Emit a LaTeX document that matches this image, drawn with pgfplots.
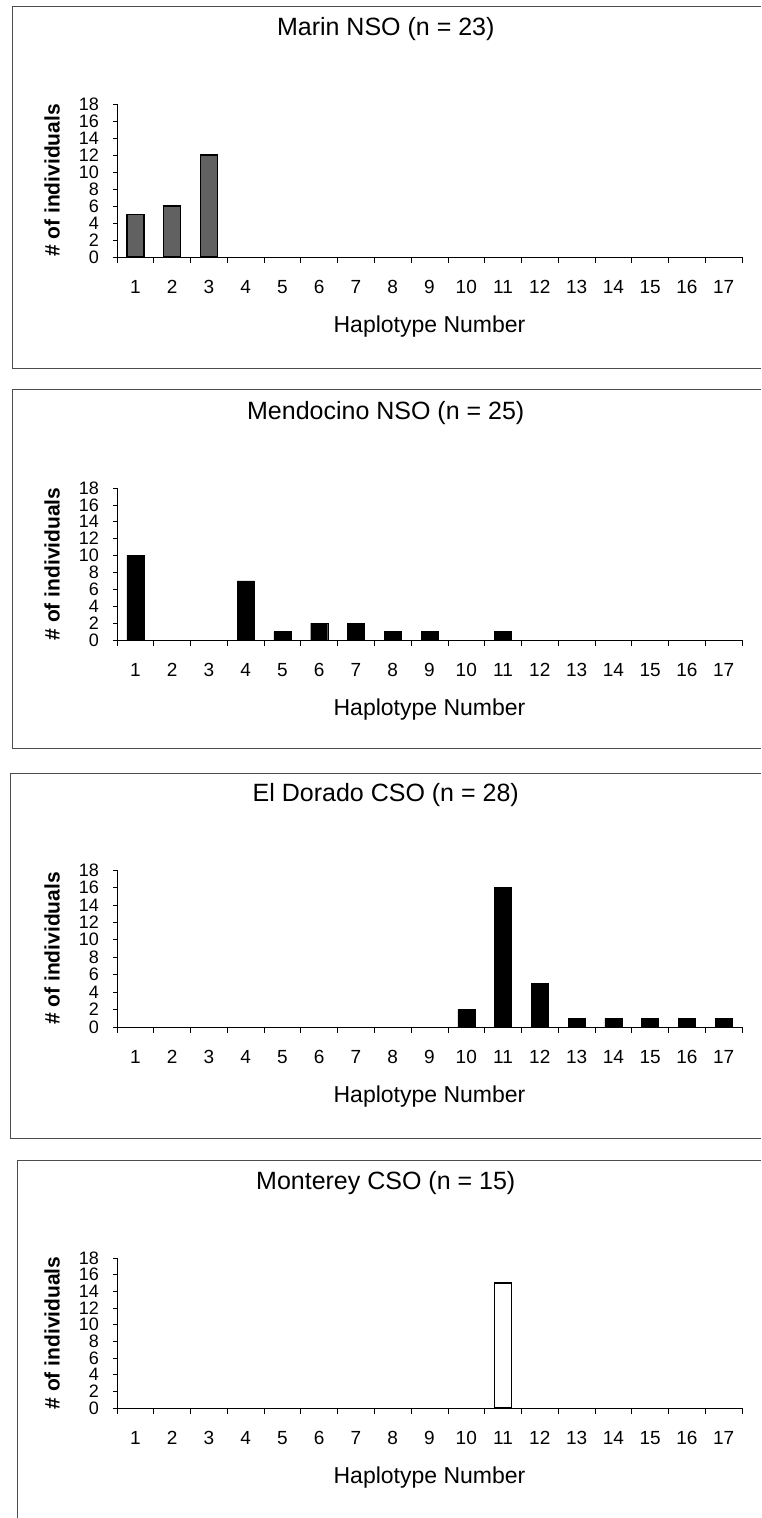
\documentclass[border=0pt]{standalone}
\usepackage{fontspec}
\setmainfont{Liberation Sans}
\usepackage{pgfplots}
\pgfplotsset{compat=1.18}
\pgfplotsset{
  panel/.style={
    scale only axis, width=625bp,
    xmin=0.5, xmax=17.5, ymin=0, ymax=18,
    axis x line*=bottom, axis y line*=left,
    axis line style={black, line width=0.9bp},
    xtick={1,...,17},
    minor xtick={0.5,1.5,...,17.5},
    major x tick style={draw=none},
    minor x tick style={black, line width=0.7bp},
    ytick={0,2,...,18},
    y tick style={black, line width=0.7bp},
    tick align=outside,
    major tick length=4bp, minor tick length=6bp,
    /pgf/number format/assume math mode=true,
    xticklabel style={font=\fontsize{19bp}{19bp}\selectfont, anchor=center, inner sep=0pt, yshift=-26bp},
    yticklabel style={font=\fontsize{18bp}{18bp}\selectfont, anchor=east, inner sep=0pt, xshift=-14bp},
    title style={font=\fontsize{25bp}{30bp}\selectfont, at={(axis description cs:0.43,1)}, anchor=center, yshift=69bp},
    xlabel={Haplotype Number},
    xlabel style={font=\fontsize{23bp}{28bp}\selectfont, at={(axis description cs:0.5,0)}, anchor=center, yshift=-70bp},
    ylabel={\# of individuals},
    ylabel style={font=\fontsize{21bp}{25bp}\selectfont\bfseries, at={(axis description cs:-0.104,0.5)}, anchor=center},
    ybar, bar width=17bp, bar shift=0pt,
    clip=false,
  }
}
\begin{document}
\begin{tikzpicture}[x=1bp,y=1bp]
\path[use as bounding box] (0,0) rectangle (761,-1518);
% panel borders
\draw[black!70, line width=0.7bp] (761,-6)--(12,-6)--(12,-368)--(761,-368);
\draw[black!70, line width=0.7bp] (761,-389)--(12,-389)--(12,-748)--(761,-748);
\draw[black!70, line width=0.7bp] (761,-773)--(10,-773)--(10,-1138)--(761,-1138);
\draw[black!70, line width=0.7bp] (761,-1160)--(17,-1160)--(17,-1518);

\begin{axis}[panel, height=153bp, at={(117bp,-257bp)}, anchor=south west,
  title={Marin NSO (n = 23)}]
\addplot[draw=black, line width=1.4bp, fill=black!62] coordinates {(1,5) (2,6) (3,12)};
\end{axis}

\begin{axis}[panel, height=152bp, at={(117bp,-640bp)}, anchor=south west,
  title={Mendocino NSO (n = 25)}]
\addplot[draw=black, fill=black] coordinates {(1,10) (4,7) (5,1) (6,2) (7,2) (8,1) (9,1) (11,1)};
\end{axis}

\begin{axis}[panel, height=157bp, at={(117bp,-1027bp)}, anchor=south west,
  title={El Dorado CSO (n = 28)}]
\addplot[draw=black, fill=black] coordinates {(10,2) (11,16) (12,5) (13,1) (14,1) (15,1) (16,1) (17,1)};
\end{axis}

\begin{axis}[panel, height=150bp, at={(117bp,-1408bp)}, anchor=south west,
  title={Monterey CSO (n = 15)}]
\addplot[draw=black, line width=1.5bp, fill=white] coordinates {(11,15)};
\end{axis}
\end{tikzpicture}
\end{document}
